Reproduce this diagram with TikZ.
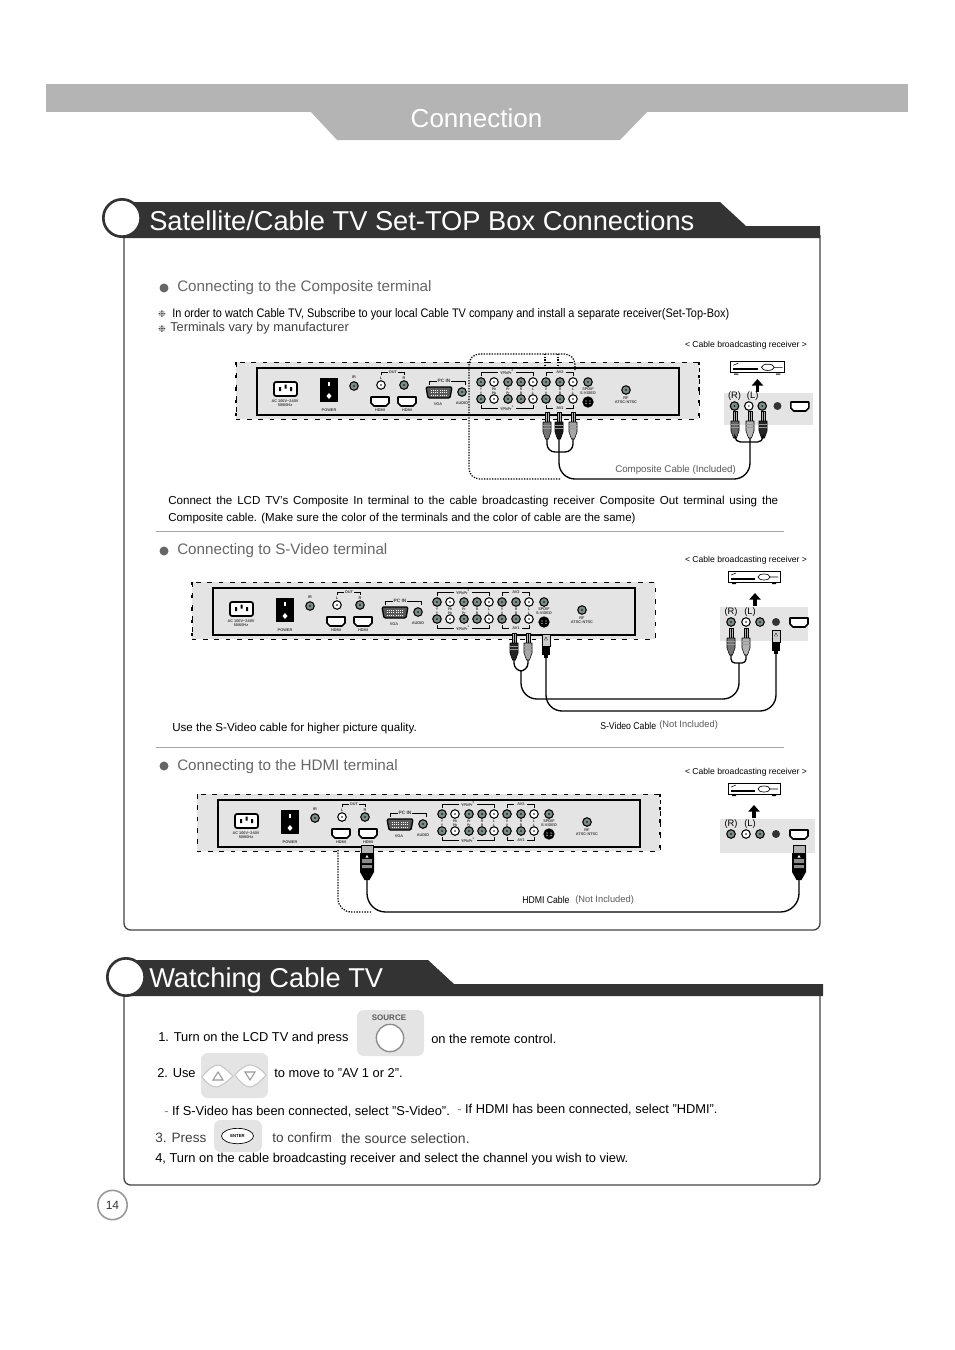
\documentclass[tikz,border=0pt]{standalone}
\usepackage{fontspec}
\usepackage{tikz}
\usetikzlibrary{arrows.meta,shapes.geometric}
\setmainfont{Liberation Sans}
\newfontfamily\condfont[FakeStretch=.88]{Liberation Sans}
\newfontfamily\symfont{DejaVu Sans}
\newcommand{\fs}[1]{\fontsize{#1}{#1}\selectfont}
\definecolor{bandgray}{HTML}{333333}
\definecolor{topgray}{HTML}{B4B4B4}
\definecolor{panelbg}{HTML}{E4E4E4}
\definecolor{jackgray}{HTML}{7E8C86}
\definecolor{headgray}{HTML}{666666}
\definecolor{linegray}{HTML}{444444}

\tikzset{
  tinylbl/.style={font=\fs{2.9}\bfseries, text=black!75, inner sep=0, align=center},
  jack/.style={circle, draw=black, line width=.8pt, fill=#1, inner sep=0, minimum size=6.4pt,
    path picture={\fill[black] (path picture bounding box.center) circle (.6pt);}},
  pics/hdmiport/.style={code={
    \draw[fill=white, line width=1.2pt, line join=round] (0,0) -- (18,0) -- (18,6) -- (15,9) -- (3,9) -- (0,6) -- cycle;
  }},
  pics/tvpanel/.style={code={
    \fill[panelbg] (236,362) rectangle (699,419);
    \draw[line width=.7pt, dash pattern=on 3.5pt off 5pt] (236,362) rectangle (699,419);
    \draw[line width=1.3pt, fill=panelbg] (257,368) rectangle (679,415);
    % power inlet and switch
    \draw[fill=white, line width=1.3pt, rounded corners=1.5pt] (274,382) rectangle (297,396);
    \fill (279,387) rectangle (281,391) (284.5,384.5) rectangle (286.5,388.5) (290,387) rectangle (292,391);
    \node[tinylbl] (-ac) at (285,403) {AC 100V\textasciitilde240V\\50/60Hz};
    \fill (320,378) rectangle (338,402);
    \fill[white] (328,382) rectangle (330,386);
    \fill[white] (329,393) -- (331.5,396) -- (329,399) -- (326.5,396) -- cycle;
    \node[tinylbl] (-power) at (329,410) {POWER};
    % ir and audio out
    \node[jack=jackgray] (-ir) at (354,386) {};
    \node[tinylbl] (-irl) at (354,377) {IR};
    \node[jack=white] (-outl) at (381,385) {};
    \node[jack=jackgray] (-outr) at (404,385) {};
    \node[tinylbl] (-ll) at (381,378) {L};
    \node[tinylbl] (-rl) at (404,378) {R};
    \draw[line width=.4pt] (381,375) -- (381,372) -- (388,372) (398,372) -- (404,372) -- (404,375);
    \node[tinylbl] (-outlbl) at (393,372) {OUT};
    % hdmi
    \pic at (371,397) {hdmiport};
    \pic at (398,397) {hdmiport};
    \node[tinylbl] (-h2) at (380,410) {HDMI};
    \node[tinylbl] (-h1) at (407,410) {HDMI};
    % vga and audio
    \draw[fill=black!65, line width=1pt, rounded corners=1pt] (426,387) -- (452,387) -- (450,398) -- (428,398) -- cycle;
    \foreach \y in {390,392.5,395}
      \draw[white, line width=.5pt, dash pattern=on .8pt off .8pt] (431,\y) -- (447,\y);
    \node[tinylbl] (-vga) at (438,404) {VGA};
    \draw[line width=.5pt] (429,385) -- (429,381) -- (437,381) (451,381) -- (465,381) -- (465,385);
    \node[tinylbl, font=\fs{3.6}\bfseries] (-pcin) at (444,381) {PC IN};
    \node[jack=jackgray] (-audio) at (462,392) {};
    \node[tinylbl] (-audiol) at (462,403) {AUDIO};
    % component rows
    \foreach \x/\c/\t in {481/jackgray/Y,494/white/Pb,508/jackgray/Pr,521/jackgray/R,533/white/L,546/jackgray/V,560/jackgray/R,573/white/L}{
      \node[jack=\c] (-up\x) at (\x,382) {};
      \node[jack=\c] (-dn\x) at (\x,399) {};
      \node[tinylbl, font=\fs{2.6}\bfseries] (-ut\x) at (\x,389) {\t};
      \node[tinylbl, font=\fs{2.6}\bfseries] (-dt\x) at (\x,392.8) {\t};
    }
    \draw[line width=.4pt] (481,376) -- (481,372) -- (498,372) (516,372) -- (533,372) -- (533,376);
    \draw[line width=.4pt] (481,405) -- (481,408) -- (498,408) (516,408) -- (533,408) -- (533,405);
    \draw[line width=.4pt] (546,376) -- (546,372) -- (553,372) (566,372) -- (573,372) -- (573,376);
    \draw[line width=.4pt] (546,405) -- (546,408) -- (553,408) (566,408) -- (573,408) -- (573,405);
    \node[tinylbl] (-yp2) at (507,372) {YPbPr\textsuperscript{2}};
    \node[tinylbl] (-yp1) at (507,408) {YPbPr\textsuperscript{1}};
    \node[tinylbl] (-av2) at (560,372) {AV2};
    \node[tinylbl] (-av1) at (560,408) {AV1};
    % spdif, s-video, rf
    \node[jack=jackgray] (-spdif) at (588,382) {};
    \node[tinylbl] (-sl) at (588,391.5) {SPDIF\\S-VIDEO};
    \node[circle, fill=black, inner sep=0, minimum size=8.5pt] (-svid) at (588,402) {};
    \foreach \dx/\dy in {-2/-1,2/-1,-2/1.5,2/1.5}
      \fill[white] (588+\dx,402+\dy) circle (.55pt);
    \node[jack=jackgray] (-rf) at (626,390) {};
    \node[tinylbl] (-rfl) at (626,400) {RF\\ATSC-NTSC};
  }},
  pics/jackstrip/.style={code={
    \node[jack=jackgray] (-a) at (11,15) {};
    \node[jack=white] (-b) at (26,15) {};
    \node[jack=jackgray] (-c) at (40,15) {};
    \node[circle, fill=black!80, inner sep=0, minimum size=6pt] (-d) at (56,15) {};
    \pic at (70,11) {hdmiport};
    \node[inner sep=0, font=\fs{7}] (-rr) at (11,5) {(R)};
    \node[inner sep=0, font=\fs{7}] (-ll) at (30,5) {(L)};
  }},
  pics/receiver/.style={code={
    \draw[fill=white, line width=.6pt] (0,0) rectangle (52,11);
    \fill (4,12) rectangle (8,13) (44,12) rectangle (48,13);
    \fill (3,6.5) rectangle (27,8.5);
    \draw[fill=white, line width=.5pt] (36,6) ellipse [x radius=6, y radius=3];
    \draw[line width=.4pt] (42,6) -- (50,6) (3,4) -- (8,2);
  }},
  pics/rcaplug/.style={code={
    \draw[fill=black!30, line width=.4pt] (-2,0) rectangle (2,10);
    \draw[line width=.6pt] (0,0) -- (0,10);
    \draw[fill=#1, line width=.4pt, line join=round] (-4,10) -- (4,10) -- (4,20) -- (1.5,27) -- (-1.5,27) -- (-4,20) -- cycle;
    \draw[white!60!black, line width=.4pt] (-4,13) -- (4,13) (-4,16) -- (4,16);
    \coordinate (-tail) at (0,27);
  }},
  pics/svplug/.style={code={
    \draw[fill=black!20, line width=.6pt] (-4,0) rectangle (4,12);
    \draw[fill=white, line width=.3pt] (0,3) -- (1.5,6) -- (-1.5,6) -- cycle;
    \fill (-4,12) rectangle (4,21);
    \fill (-2,21) rectangle (2,24);
    \coordinate (-tail) at (0,24);
  }},
  pics/hdmiplug/.style={code={
    \draw[fill=black!30, line width=.5pt] (-6,0) rectangle (6,8);
    \fill (-7,8) -- (7,8) -- (7,27) -- (2.5,35) -- (-2.5,35) -- (-7,27) -- cycle;
    \fill[black!45] (-5,14) rectangle (5,18) (-5,20) rectangle (5,23);
    \fill[white] (0,10) -- (1.5,12.5) -- (-1.5,12.5) -- cycle;
    \coordinate (-tail) at (0,35);
  }}
}

\begin{document}
\begin{tikzpicture}[
  x=.75pt, y=-.75pt,
  txt/.style={anchor=west, inner sep=0},
  heading/.style={txt, text=headgray, font=\fs{11.4}},
  body/.style={txt, font=\fs{9.65}},
  soft/.style={txt, text=black!75, font=\fs{10.2}},
  tight/.style={txt, font=\condfont\fs{9.3}},
  note/.style={txt, text=black!65, font=\fs{7}},
  recv/.style={inner sep=0, font=\fs{6.45}},
  bandtitle/.style={txt, text=white, font=\fs{20.45}},
  band/.style={fill=bandgray},
  ring/.style={circle, draw=bandgray, line width=2pt, fill=white, minimum size=28pt, inner sep=0},
  frame/.style={draw=linegray, line width=1pt, rounded corners=5pt},
  cable/.style={line width=1pt},
  strip/.style={fill=panelbg},
  blockarrow/.style={line width=2.6pt, -{Triangle[width=8.5pt,length=5pt]}},
  edgemark/.style={line width=1.4pt, dash pattern=on 2.5pt off 7pt},
  dots/.style={line width=.9pt, dash pattern=on 1pt off 1pt},
  keypad/.style={fill=panelbg, rounded corners=5pt},
  sep/.style={draw=black!35, line width=.7pt},
  flake/.style={inner sep=0, text=black!70, font=\symfont\fs{7}}
]
  \useasboundingbox (0,0) rectangle (954,1350);

  % page banner
  \fill[topgray] (46,84) rectangle (908,112);
  \fill[topgray] (310,111) -- (648,111) -- (620,140) -- (337,140) -- cycle;
  \node[inner sep=0, text=white, font=\fs{19.5}] (banner) at (476.5,118) {Connection};

  % first frame and its band
  \draw[frame] (124,235) -- (124,930) -- (820,930) -- (820,235);
  \fill[band] (122,202) -- (720,202) -- (746,226) -- (820,226) -- (820,238) -- (122,238) -- cycle;
  \node[ring] (ring1) at (122,218) {};
  \node[bandtitle] (title1) at (149,221) {Satellite/Cable TV Set-TOP Box Connections};

  % composite
  \fill[headgray] (164,288) circle [radius=4.5];
  \node[heading] (head1) at (177,287.5) {Connecting to the Composite terminal};
  \node[flake] (flake1) at (162,314) {❉};
  \node[tight] (intro1) at (172,314) {In order to watch Cable TV, Subscribe to your local Cable TV company and install a separate receiver(Set-Top-Box)};
  \node[flake] (flake2) at (162,329.5) {❉};
  \node[txt, text=black!75, font=\fs{9.6}] (intro2) at (170,328.5) {Terminals vary by manufacturer};
  \node[recv] (recv1) at (746,345.5) {< Cable broadcasting receiver >};

  \pic (tv1) at (0,0) {tvpanel};
  \draw[edgemark] (236,362) -- (236,419) (699,362) -- (699,419);

  % dotted outline round the sockets
  \coordinate (dot1) at (575,370);
  \coordinate (dot2) at (560,479);
  \draw[dots, rounded corners=8pt] (dot1) -- (575,354) -- (469,354) -- (469,479) -- (dot2);
  \draw[dots] (545,354) -- (545,366) (558,354) -- (558,366);

  \pic at (730,361) [scale=1.05] {receiver};
  \coordinate (base1) at (757.5,392);
  \coordinate (tip1) at (757.5,379);
  \draw[blockarrow] (base1) -- (tip1);

  \fill[strip] (724,393) rectangle (813,425);
  \pic (js1) at (724,391) [xscale=.955] {jackstrip};

  \pic (cp1) at (547,412) {rcaplug=black!55};
  \pic (cp2) at (559,412) {rcaplug=black!90};
  \pic (cp3) at (573,412) {rcaplug=black!35};
  \pic (rp1) at (735,411) {rcaplug=black!60};
  \pic (rp2) at (750,411) {rcaplug=black!30};
  \pic (rp3) at (763,411) {rcaplug=black!85};
  \draw[cable, rounded corners=6pt] (cp1-tail) -- ++(0,13) -| (cp3-tail);
  \draw[cable, rounded corners=4pt] (rp1-tail) -- ++(0,4) -| (rp3-tail);
  \draw[cable, rounded corners=12pt] (cp2-tail) -- ++(0,40) -| (rp2-tail);
  \node[txt, text=black!65, font=\fs{7.3}] (cablelbl1) at (615,470) {Composite Cable  (Included)};

  \node[txt, font=\fs{8.7}] (para1) at (168,501) {\makebox[457.5pt][s]{Connect the LCD TV's Composite In terminal to the cable broadcasting receiver Composite Out terminal using the}};
  \node[txt, font=\fs{8.63}] (para2) at (168,519) {Composite cable. (Make sure the color of the terminals and the color of cable are the same)};
  \draw[sep] (156,531) -- (784,531);

  % s-video
  \fill[headgray] (164,551) circle [radius=4.5];
  \node[heading] (head2) at (177,550.5) {Connecting to S-Video terminal};
  \node[recv] (recv2) at (746,560.5) {< Cable broadcasting receiver >};

  \pic (tv2) at (-44,220) {tvpanel};
  \draw[edgemark] (192,582) -- (192,639);

  \pic at (728,571) {receiver};
  \coordinate (base2) at (755,606);
  \coordinate (tip2) at (755,593);
  \draw[blockarrow] (base2) -- (tip2);

  \fill[strip] (720,607) rectangle (808,641);
  \pic (js2) at (720,607) {jackstrip};

  \pic (sp1) at (514,633) {rcaplug=black!85};
  \pic (sp2) at (528,633) {rcaplug=black!35};
  \pic (sv1) at (546,634) {svplug};
  \pic (tp1) at (731,628) {rcaplug=black!55};
  \pic (tp2) at (746,628) {rcaplug=black!30};
  \pic (sv2) at (776,630) {svplug};
  \coordinate (join1) at (521,671);
  \coordinate (join2) at (739,663);
  \draw[cable, rounded corners=6pt] (sp1-tail) -- ++(0,11) -| (sp2-tail);
  \draw[cable, rounded corners=3pt] (tp1-tail) -- ++(0,8) -| (tp2-tail);
  \draw[cable, rounded corners=12pt] (join1) -- ++(0,28) -| (join2);
  \draw[cable, rounded corners=12pt] (sv1-tail) -- ++(0,53) -| (sv2-tail);

  \node[txt, font=\fs{8.7}] (use1) at (172,728.5) {Use the S-Video cable for higher picture quality.};
  \node[txt, font=\condfont\fs{7.4}] (cablelbl2) at (600,725.5) {S-Video Cable};
  \node[note] (noninc2) at (659,725.5) {(Not Included)};
  \draw[sep] (156,747) -- (784,747);

  % hdmi
  \fill[headgray] (164,766) circle [radius=4.5];
  \node[heading] (head3) at (177,766.5) {Connecting to the HDMI terminal};
  \node[recv] (recv3) at (746,772.5) {< Cable broadcasting receiver >};

  \pic (tv3) at (-39,432) {tvpanel};
  \draw[edgemark] (660,794) -- (660,851);

  \pic at (728,783) {receiver};
  \coordinate (base3) at (754,818);
  \coordinate (tip3) at (754,805);
  \draw[blockarrow] (base3) -- (tip3);

  \fill[strip] (720,819) rectangle (815,853);
  \pic (js3) at (720,819) {jackstrip};

  \pic (hp1) at (367,845) {hdmiplug};
  \pic (hp2) at (799,845) {hdmiplug};
  \coordinate (dot3) at (338,850);
  \coordinate (dot4) at (372,912);
  \draw[dots, rounded corners=10pt] (dot3) -- (338,912) -- (dot4);
  \draw[cable, rounded corners=14pt] (hp1-tail) -- ++(0,32) -| (hp2-tail);
  \node[txt, font=\condfont\fs{7.4}] (cablelbl3) at (522,899.5) {HDMI Cable};
  \node[note] (noninc3) at (575,900) {(Not Included)};

  % second frame and its band
  \draw[frame] (124,990) -- (124,1185) -- (820,1185) -- (820,990);
  \fill[band] (126,960) -- (428,960) -- (454,984) -- (823,984) -- (823,996) -- (126,996) -- cycle;
  \node[ring] (ring2) at (126,977) {};
  \node[bandtitle] (title2) at (149,980) {Watching Cable TV};

  % steps
  \node[body] (st1) at (158,1038.5) {1. Turn on the LCD TV and press};
  \fill[keypad] (357,1010) rectangle (424,1056);
  \node[inner sep=0, text=black!65, font=\fs{6}\bfseries] (srclbl) at (389,1018) {SOURCE};
  \node[circle, draw=black!45, line width=1pt, fill=white, minimum size=20.5pt, inner sep=0] (srcbtn) at (390,1038) {};
  \node[body] (st1b) at (431,1038.5) {on the remote control.};

  \node[body] (st2) at (157,1073.5) {2. Use};
  \fill[keypad] (201,1053) rectangle (268,1098);
  \draw[draw=black!22, fill=white, line width=.8pt] (202,1077) .. controls (208,1069) and (214,1065) .. (218,1065) .. controls (222,1065) and (228,1071) .. (233,1076) .. controls (226,1083) and (220,1087) .. (216,1087) .. controls (212,1087) and (206,1083) .. (202,1077) -- cycle;
  \draw[draw=black!22, fill=white, line width=.8pt] (235,1075) .. controls (241,1068) and (246,1065) .. (250,1065) .. controls (256,1065) and (262,1070) .. (266,1075) .. controls (260,1082) and (254,1087) .. (250,1087) .. controls (245,1087) and (239,1081) .. (235,1075) -- cycle;
  \draw[draw=black!40, line width=.8pt] (213,1080) -- (218,1072) -- (223,1080) -- cycle;
  \draw[draw=black!40, line width=.8pt] (245,1072) -- (250,1080) -- (255,1072) -- cycle;
  \node[body] (st2b) at (274,1073.5) {to move to "AV 1 or 2".};

  \node[body] (sel1) at (164,1111.5) {\textcolor{black!50}{-} If S-Video has been connected, select "S-Video".};
  \node[body] (sel2) at (457,1109.5) {\textcolor{black!50}{-} If HDMI has been connected, select "HDMI".};

  \node[soft] (st3) at (155,1137.5) {3. Press};
  \fill[keypad] (214,1120) rectangle (262,1152);
  \node[ellipse, draw=black, line width=.5pt, fill=white, minimum width=24pt, minimum height=11.5pt, inner sep=0, font=\fs{3.2}\bfseries] (entbtn) at (237.5,1136) {ENTER};
  \node[soft] (st3b) at (272,1137.5) {to confirm};
  \node[soft, font=\fs{10.5}] (st3c) at (341,1138.5) {the source selection.};
  \node[body] (st4) at (155,1159.5) {4, Turn on the cable broadcasting receiver and select the channel you wish to view.};

  % page number
  \node[circle, draw=black!40, line width=1.2pt, minimum size=22pt, inner sep=0, font=\fs{9}, text=black!80] (pageno) at (112.5,1205) {14};
\end{tikzpicture}
\end{document}
